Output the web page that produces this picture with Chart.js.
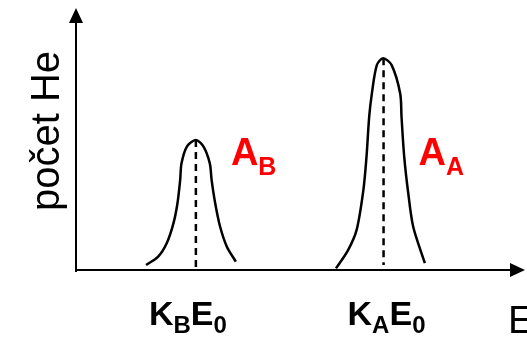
<!DOCTYPE html>
<html>
<head>
<meta charset="utf-8">
<script src="https://cdn.jsdelivr.net/npm/chart.js@4"></script>
<style>
  html, body { margin: 0; padding: 0; background: #fff; }
  #wrap { width: 527px; height: 338px; }
</style>
</head>
<body>
<div id="wrap"><canvas id="spectrum"></canvas></div>
<script>
// Energy spectrum of scattered He: two peaks (element B and element A)
const peakBEnergy = [15.6, 18.3, 20.2, 21.7, 22.6, 23.2, 23.5, 24.7, 26.7, 28.4, 29.8, 30.2, 31.0, 32.1, 33.6, 35.6];
const peakBCounts = [1.9, 5.1, 10.2, 17.8, 25.5, 34.4, 40.7, 47.1, 49.6, 47.1, 40.7, 34.4, 25.5, 16.5, 8.9, 3.2];

const peakAEnergy = [57.9, 60.6, 62.5, 64.0, 64.7, 65.3, 65.9, 67.0, 68.4, 70.3, 72.2, 72.5, 73.1, 74.0, 75.1, 77.7];
const peakACounts = [0.6, 7.6, 15.3, 30.5, 43.2, 58.5, 67.4, 78.2, 80.8, 78.2, 67.4, 58.5, 43.2, 29.3, 16.5, 2.6];

// peak centres (K*E0) and heights
const peakCenters = [26.7, 68.5];
const peakHeights = [49.6, 80.8];
const peakBase = [1.1, 1.9];

const peakLabels = ['A_B', 'A_A'];
const tickLabels = ['K_BE_0', 'K_AE_0'];
const xTitle = 'E';
const yTitle = 'počet He';

function toPoints(xs, ys) {
  return xs.map((x, i) => ({ x: x, y: ys[i] }));
}

// draws text where "_X" means X is a subscript; x is the left edge
function drawSubText(ctx, text, x, y, size, subSize, drop, color) {
  const segs = [];
  for (let i = 0; i < text.length; i++) {
    if (text[i] === '_') { segs.push({ t: text[i + 1], sub: true }); i++; }
    else segs.push({ t: text[i], sub: false });
  }
  let cx = x;
  ctx.fillStyle = color;
  ctx.textAlign = 'left';
  ctx.textBaseline = 'alphabetic';
  segs.forEach(s => {
    ctx.font = 'bold ' + (s.sub ? subSize : size) + 'px "Liberation Sans", Arial, sans-serif';
    ctx.fillText(s.t, cx, s.sub ? y + drop : y);
    cx += ctx.measureText(s.t).width;
  });
}

const tickShift = [-47, -36];

const axesPlugin = {
  id: 'arrowAxes',
  afterDraw(chart) {
    const ctx = chart.ctx;
    const a = chart.chartArea;
    const xs = chart.scales.x;
    const ys = chart.scales.y;
    const x0 = a.left, y0 = a.bottom;
    ctx.save();
    ctx.strokeStyle = '#000';
    ctx.fillStyle = '#000';
    ctx.lineWidth = 2;
    ctx.beginPath();
    ctx.moveTo(x0, y0 + 2);
    ctx.lineTo(x0, a.top + 12);
    ctx.moveTo(x0, y0);
    ctx.lineTo(a.right - 12, y0);
    ctx.stroke();
    // arrow heads
    ctx.beginPath();
    ctx.moveTo(x0, a.top);
    ctx.lineTo(x0 - 7, a.top + 15);
    ctx.lineTo(x0 + 7, a.top + 15);
    ctx.closePath();
    ctx.fill();
    ctx.beginPath();
    ctx.moveTo(a.right, y0);
    ctx.lineTo(a.right - 15, y0 - 7);
    ctx.lineTo(a.right - 15, y0 + 7);
    ctx.closePath();
    ctx.fill();

    // axis titles
    ctx.font = '39px "Liberation Sans", Arial, sans-serif';
    ctx.textAlign = 'left';
    ctx.textBaseline = 'alphabetic';
    ctx.fillText(xTitle, 508, 333);
    ctx.save();
    ctx.translate(59, 131);
    ctx.rotate(-Math.PI / 2);
    ctx.font = '40px "Liberation Sans", Arial, sans-serif';
    ctx.textAlign = 'center';
    ctx.fillText(yTitle, 0, 0);
    ctx.restore();

    // tick labels under each peak and peak annotations
    peakCenters.forEach((c, i) => {
      const px = xs.getPixelForValue(c);
      drawSubText(ctx, tickLabels[i], px + tickShift[i], 325, 34, 24, 8, '#000');
      drawSubText(ctx, peakLabels[i], px + 35, ys.getPixelForValue(40), 38, 25, 10, '#ff0000');
    });
    ctx.restore();
  }
};

const lineStyle = {
  borderColor: '#000',
  borderWidth: 2.5,
  pointRadius: 0,
  fill: false,
  tension: 0.3
};

const dashStyle = {
  borderColor: '#000',
  borderWidth: 2.5,
  borderDash: [7, 5],
  pointRadius: 0,
  fill: false
};

new Chart(document.getElementById('spectrum'), {
  type: 'line',
  data: {
    datasets: [
      Object.assign({ data: toPoints(peakBEnergy, peakBCounts) }, lineStyle),
      Object.assign({ data: toPoints(peakAEnergy, peakACounts) }, lineStyle),
      Object.assign({ data: [{ x: peakCenters[0], y: peakHeights[0] }, { x: peakCenters[0], y: peakBase[0] }] }, dashStyle),
      Object.assign({ data: [{ x: peakCenters[1], y: peakHeights[1] }, { x: peakCenters[1], y: peakBase[1] }] }, dashStyle)
    ]
  },
  options: {
    responsive: true,
    maintainAspectRatio: false,
    animation: false,
    layout: { padding: { left: 76, right: 2, top: 8, bottom: 68 } },
    plugins: { legend: { display: false }, tooltip: { enabled: false } },
    scales: {
      x: { type: 'linear', min: 0, max: 100, display: false },
      y: { type: 'linear', min: 0, max: 100, display: false }
    }
  },
  plugins: [axesPlugin]
});
</script>
</body>
</html>
